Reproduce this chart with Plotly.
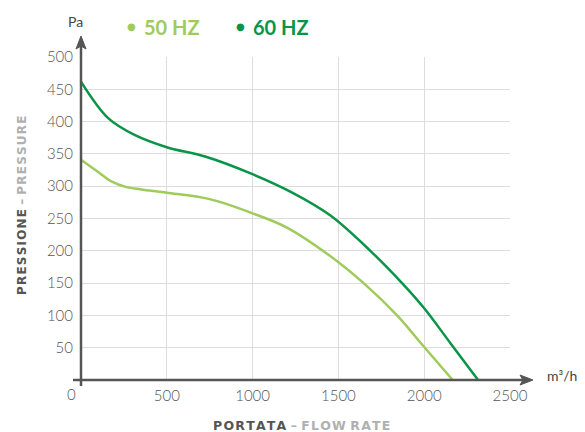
import plotly.graph_objects as go

# Data
flow_50 = [0, 100, 180, 260, 350, 500, 750, 1000, 1200, 1452, 1647, 1842, 2000, 2166]
pres_50 = [341, 322, 307, 299, 295, 290, 280, 258, 236, 192, 150, 100, 51, 0]
flow_60 = [0, 160, 315, 504, 723, 996, 1239, 1452, 1686, 1871, 2000, 2153, 2314]
pres_60 = [462, 405, 379, 360, 346, 319, 289, 255, 200, 150, 111, 57, 0]

x_ticks = [500, 1000, 1500, 2000, 2500]
y_ticks = [50, 100, 150, 200, 250, 300, 350, 400, 450, 500]

c50 = "#9fcb5c"
c60 = "#0b9447"
axis_col = "#555555"
font_fam = "Lato, 'Open Sans', sans-serif"

OFF = 8  # page body margin of the browser
W, H = 585 - OFF, 432 - OFF
L, R, T, B = 81, 510, 57, 380  # plot area in reference pixels


def px_x(px):
    return (px - L) / (R - L)


def px_y(py):
    return (B - py) / (B - T)


def spaced(s):
    return "\u200a".join(list(s))


fig = go.Figure()
fig.add_trace(go.Scatter(x=flow_50, y=pres_50, mode="lines", name="50 HZ",
                         line=dict(color=c50, width=2.5, shape="spline", smoothing=1.0)))
fig.add_trace(go.Scatter(x=flow_60, y=pres_60, mode="lines", name="60 HZ",
                         line=dict(color=c60, width=2.5, shape="spline", smoothing=1.0)))

fig.update_layout(
    width=W, height=H,
    margin=dict(l=L - OFF, r=W - (R - OFF), t=T - OFF, b=H - (B - OFF), autoexpand=False),
    paper_bgcolor="white", plot_bgcolor="white",
    showlegend=False,
    font=dict(family=font_fam, color=axis_col),
)
fig.update_xaxes(range=[0, 2500], tickvals=x_ticks, showgrid=True, gridcolor="#dddddd",
                 gridwidth=1, zeroline=False, showline=False,
                 ticks="outside", ticklen=2, tickcolor="rgba(0,0,0,0)",
                 tickfont=dict(size=15, color=axis_col, family=font_fam, weight=300))
fig.update_yaxes(range=[0, 500], tickvals=y_ticks, showgrid=True, gridcolor="#dddddd",
                 gridwidth=1, zeroline=False, showline=False,
                 ticks="outside", ticklen=4, tickcolor="rgba(0,0,0,0)",
                 tickfont=dict(size=15, color=axis_col, family=font_fam, weight=300))

# axis lines with arrowheads (paper coordinates)
fig.add_shape(type="line", xref="paper", yref="paper",
              x0=px_x(81), x1=px_x(81), y0=px_y(386), y1=px_y(45),
              line=dict(color=axis_col, width=2.5))
fig.add_shape(type="path", xref="paper", yref="paper",
              path=f"M {px_x(76)},{px_y(49)} L {px_x(81)},{px_y(36)} L {px_x(86)},{px_y(49)} L {px_x(81)},{px_y(46)} Z",
              fillcolor=axis_col, line=dict(color=axis_col, width=1))
fig.add_shape(type="line", xref="paper", yref="paper",
              x0=px_x(73), x1=px_x(524), y0=px_y(380), y1=px_y(380),
              line=dict(color=axis_col, width=2.5))
fig.add_shape(type="path", xref="paper", yref="paper",
              path=f"M {px_x(520)},{px_y(375)} L {px_x(533)},{px_y(380)} L {px_x(520)},{px_y(385)} L {px_x(523)},{px_y(380)} Z",
              fillcolor=axis_col, line=dict(color=axis_col, width=1))


def note(x, y, text, xanchor="center", **kw):
    fig.add_annotation(x=px_x(x), y=px_y(y), xref="paper", yref="paper",
                       xanchor=xanchor, yanchor="middle", text=text,
                       showarrow=False, **kw)


# origin label
note(71, 394, "0", font=dict(size=15, color=axis_col, family=font_fam, weight=300))

# units
note(75, 21, "Pa", font=dict(size=14, color="#444444", family=font_fam))
note(545, 375, "m³/h", xanchor="left", font=dict(size=14, color="#444444", family=font_fam))

# axis titles
note(301, 425,
     f"<b><span style='color:#555555'>{spaced('PORTATA')}</span>"
     f"<span style='color:#b0b0b0'> – {spaced('FLOW')} {spaced('RATE')}</span></b>",
     font=dict(size=12.5, family="'DejaVu Sans', sans-serif"))
note(22, 206,
     f"<b><span style='color:#555555'>{spaced('PRESSIONE')}</span>"
     f"<span style='color:#b0b0b0'> – {spaced('PRESSURE')}</span></b>",
     textangle=-90, font=dict(size=12, family="'DejaVu Sans', sans-serif"))

# legend-like labels
note(131, 26, "●", font=dict(size=10, color=c50, family="'DejaVu Sans', sans-serif"))
note(142, 27, "<b>50 HZ</b>", xanchor="left", font=dict(size=20, color=c50, family=font_fam))
note(240, 26, "●", font=dict(size=10, color=c60, family="'DejaVu Sans', sans-serif"))
note(251, 27, "<b>60 HZ</b>", xanchor="left", font=dict(size=20, color=c60, family=font_fam))

fig.write_html("out.html")
